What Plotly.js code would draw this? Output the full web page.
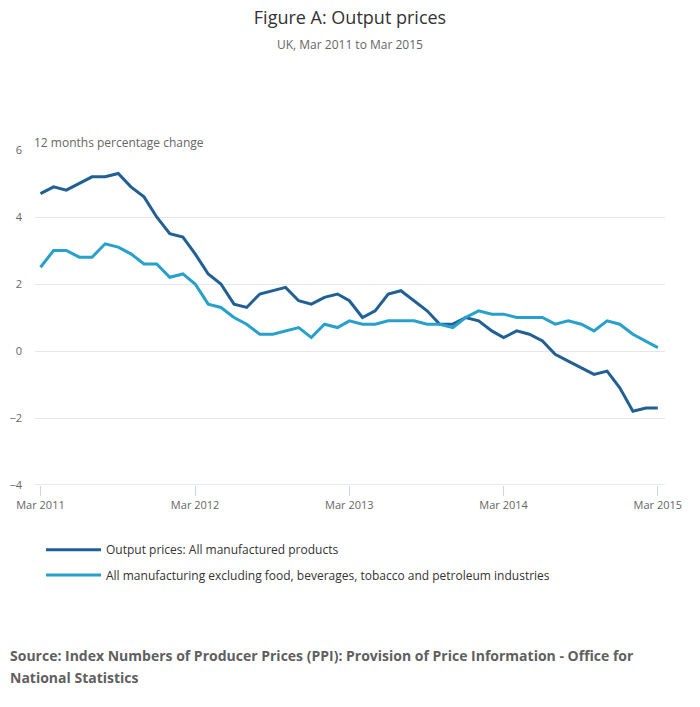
<!DOCTYPE html>
<html>
<head>
<meta charset="utf-8">
<script src="https://cdn.plot.ly/plotly-3.0.1.min.js"></script>
<style>
  body { margin: 0; background: #fff; }
  #graph { width: 700px; height: 707px; }
</style>
</head>
<body>
<div id="graph"></div>
<script>
// monthly, Mar 2011 .. Mar 2015
var months = [];
for (var i = 0; i < 49; i++) {
    var m = 2 + i; // zero-based month, starting at March
    var y = 2011 + Math.floor(m / 12);
    var mm = (m % 12) + 1;
    months.push(y + '-' + (mm < 10 ? '0' + mm : mm) + '-01');
}

var outputAll = [4.7, 4.9, 4.8, 5.0, 5.2, 5.2, 5.3, 4.9, 4.6, 4.0, 3.5, 3.4, 2.9,
    2.3, 2.0, 1.4, 1.3, 1.7, 1.8, 1.9, 1.5, 1.4, 1.6, 1.7, 1.5,
    1.0, 1.2, 1.7, 1.8, 1.5, 1.2, 0.8, 0.8, 1.0, 0.9, 0.6, 0.4,
    0.6, 0.5, 0.3, -0.1, -0.3, -0.5, -0.7, -0.6, -1.1, -1.8, -1.7, -1.7];

var outputCore = [2.5, 3.0, 3.0, 2.8, 2.8, 3.2, 3.1, 2.9, 2.6, 2.6, 2.2, 2.3, 2.0,
    1.4, 1.3, 1.0, 0.8, 0.5, 0.5, 0.6, 0.7, 0.4, 0.8, 0.7, 0.9,
    0.8, 0.8, 0.9, 0.9, 0.9, 0.8, 0.8, 0.7, 1.0, 1.2, 1.1, 1.1,
    1.0, 1.0, 1.0, 0.8, 0.9, 0.8, 0.6, 0.9, 0.8, 0.5, 0.3, 0.1];

var seriesNames = ['Output prices: All manufactured products',
    'All manufacturing excluding food, beverages, tobacco and petroleum industries'];
var tickDates = ['2011-03-01', '2012-03-01', '2013-03-01', '2014-03-01', '2015-03-01'];
var tickText = ['Mar 2011', 'Mar 2012', 'Mar 2013', 'Mar 2014', 'Mar 2015'];
var yTicks = [-4, -2, 0, 2, 4, 6];

var plot_data = [
    {
        type: 'scatter', mode: 'lines',
        x: months, y: outputAll,
        name: seriesNames[0],
        line: { color: '#206095', width: 3 },
        legend: 'legend'
    },
    {
        type: 'scatter', mode: 'lines',
        x: months, y: outputCore,
        name: seriesNames[1],
        line: { color: '#27a0cc', width: 3 },
        legend: 'legend2'
    }
];

var layout = {
    width: 700,
    height: 707,
    paper_bgcolor: '#fff',
    plot_bgcolor: '#fff',
    font: { family: 'Open Sans, sans-serif', size: 11, color: '#666' },
    margin: { l: 35, r: 35, t: 150, b: 222 },
    title: {
        text: 'Figure A: Output prices',
        font: { family: 'Open Sans, sans-serif', size: 18, color: '#333' },
        x: 0.5, xanchor: 'center',
        y: 1 - 18 / 707, yanchor: 'middle', yref: 'container'
    },
    xaxis: {
        type: 'date',
        range: ['2011-02-16', '2015-03-18'],
        tickvals: tickDates,
        ticktext: tickText,
        showgrid: false,
        zeroline: false,
        showline: false,
        ticks: 'outside',
        ticklen: 10,
        tickcolor: '#ccd6eb',
        tickfont: { size: 11, color: '#666' },
        fixedrange: true
    },
    yaxis: {
        range: [-4, 6],
        tickvals: yTicks,
        showgrid: true,
        gridcolor: '#e6e6e6',
        zeroline: false,
        showline: false,
        ticks: '',
        ticklabelstandoff: 12,
        tickfont: { size: 11, color: '#666' },
        fixedrange: true
    },
    shapes: [{
        type: 'line', xref: 'paper', yref: 'y',
        x0: 0, x1: 1, y0: -4, y1: -4,
        line: { color: '#ccd6eb', width: 1 }
    }],
    showlegend: true,
    legend: {
        x: 6 / 630, xanchor: 'left',
        y: -0.15, yanchor: 'top',
        itemwidth: 55,
        font: { size: 12, color: '#333' },
        bgcolor: 'rgba(0,0,0,0)'
    },
    legend2: {
        x: 6 / 630, xanchor: 'left',
        y: -0.225, yanchor: 'top',
        itemwidth: 55,
        font: { size: 12, color: '#333' },
        bgcolor: 'rgba(0,0,0,0)'
    },
    annotations: [
        {
            text: 'UK, Mar 2011 to Mar 2015',
            xref: 'paper', yref: 'paper',
            x: 0.5, y: 1 + (150 - 44) / 335,
            xanchor: 'center', yanchor: 'middle',
            showarrow: false,
            font: { size: 12, color: '#666' }
        },
        {
            text: '12 months percentage change',
            xref: 'paper', yref: 'paper',
            x: -3 / 630, y: 1 + 7 / 335,
            xanchor: 'left', yanchor: 'middle',
            showarrow: false,
            font: { size: 12, color: '#666' }
        },
        {
            text: '<b>Source: Index Numbers of Producer Prices (PPI): Provision of Price Information - Office for</b>',
            xref: 'paper', yref: 'paper',
            x: -27 / 630, y: -(655 - 485) / 335,
            xanchor: 'left', yanchor: 'middle',
            showarrow: false,
            font: { size: 14, color: '#5f5f5f' }
        },
        {
            text: '<b>National Statistics</b>',
            xref: 'paper', yref: 'paper',
            x: -27 / 630, y: -(677 - 485) / 335,
            xanchor: 'left', yanchor: 'middle',
            showarrow: false,
            font: { size: 14, color: '#5f5f5f' }
        }
    ]
};

Plotly.newPlot('graph', plot_data, layout, { displayModeBar: false, staticPlot: true });
</script>
</body>
</html>
